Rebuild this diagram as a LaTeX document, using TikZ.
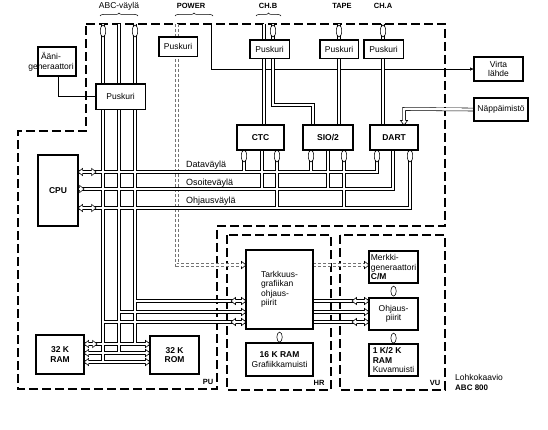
\documentclass[tikz,border=0pt]{standalone}
\usepackage{fontspec}
\setmainfont{Liberation Sans}
\usetikzlibrary{arrows.meta,decorations.pathreplacing,calc}
\begin{document}
\begin{tikzpicture}[x=1pt,y=-1pt,
  font=\fontsize{8.5}{9.5}\selectfont,
  box/.style={draw,line width=1.1pt,fill=white,inner sep=0pt,anchor=north west,align=center},
  bbox/.style={box,font=\fontsize{8.5}{9.5}\selectfont\bfseries},
  bus/.style={line width=0.55pt,double=white,double distance=2.4pt},
  pbus/.style={line width=0.5pt,draw=black!55,double=white,double distance=2.4pt,dash pattern=on 3pt off 2pt},
  wire/.style={line width=0.6pt},
  frame/.style={line width=1.3pt,dash pattern=on 9pt off 4pt},
  oval/.style={draw,fill=white,line width=0.55pt},
  lbl/.style={inner sep=0pt},
  blbl/.style={inner sep=0pt,font=\fontsize{7.5}{8}\selectfont\bfseries},
  brc/.style={decorate,decoration={brace,amplitude=3pt},line width=0.5pt},
  arrR/.pic={\fill[white] (0,0)--(-4.5,-3.6)--(-4.5,3.6)--cycle;
             \draw[line width=0.55pt] (-4.5,-1.5)--(-4.5,-3.6)--(0,0)--(-4.5,3.6)--(-4.5,1.5);},
  arrL/.pic={\fill[white] (0,0)--(4.5,-3.6)--(4.5,3.6)--cycle;
             \draw[line width=0.55pt] (4.5,-1.5)--(4.5,-3.6)--(0,0)--(4.5,3.6)--(4.5,1.5);},
  arrD/.pic={\fill[white] (0,0)--(-3.6,-4.5)--(3.6,-4.5)--cycle;
             \draw[line width=0.55pt] (-1.5,-4.5)--(-3.6,-4.5)--(0,0)--(3.6,-4.5)--(1.5,-4.5);}
]
\useasboundingbox (0,0) rectangle (548,430);
\fill[white] (0,0) rectangle (548,430);

% ---------- coordinates ----------
\coordinate (tA) at (103,24); \coordinate (tB) at (119,24); \coordinate (tC) at (135,24);
\coordinate (jC) at (135,301); \coordinate (jB) at (119,312); \coordinate (jA) at (103,322);
\coordinate (kC) at (135,344); \coordinate (kB) at (119,353); \coordinate (kA) at (103,362);
\coordinate (dD) at (377,172); \coordinate (dO) at (393,189); \coordinate (dK) at (410,208);
\coordinate (d1) at (244,172); \coordinate (d2) at (311,172);
\coordinate (o1) at (262,189); \coordinate (o2) at (328,189);
\coordinate (c1) at (277,208); \coordinate (c2) at (344,208);
\coordinate (cb) at (264,24); \coordinate (cb2) at (273,24); \coordinate (cb3) at (273,105); \coordinate (cb4) at (313,105);
\coordinate (tp) at (339,24); \coordinate (ca) at (383,24);
\coordinate (pw) at (177,24); \coordinate (pw2) at (177,265);
\coordinate (np1) at (404,109);
\coordinate (vw) at (211,24);
\coordinate (ae1) at (58,96);

% ---------- boxes ----------
\node[box,minimum width=37pt,minimum height=28pt] (aeni) at (38,47) {};
\node[box,minimum width=48pt,minimum height=24pt] (pusk1) at (96,84) {Puskuri};
\node[box,minimum width=37pt,minimum height=18pt] (puskP) at (159,37) {Puskuri};
\node[box,minimum width=38pt,minimum height=17pt] (puskB) at (250,40) {Puskuri};
\node[box,minimum width=37pt,minimum height=17pt] (puskT) at (320,40) {Puskuri};
\node[box,minimum width=38pt,minimum height=17pt] (puskA) at (364,40) {Puskuri};
\node[box,minimum width=48pt,minimum height=23pt] (virta) at (474,57) {Virta\\lähde};
\node[box,minimum width=53pt,minimum height=22pt] (napp) at (474,98) {Näppäimistö};
\node[bbox,minimum width=46pt,minimum height=24pt] (ctc) at (237,125) {CTC};
\node[bbox,minimum width=49pt,minimum height=24pt] (sio) at (303,125) {SIO/2};
\node[bbox,minimum width=47pt,minimum height=24pt] (dart) at (370,125) {DART};
\node[bbox,minimum width=39pt,minimum height=70pt] (cpu) at (38,155) {CPU};
\node[bbox,minimum width=47pt,minimum height=38pt] (ram) at (36,335) {32 K\\RAM};
\node[bbox,minimum width=48pt,minimum height=37pt] (rom) at (150,336) {32 K\\ROM};
\node[box,minimum width=66pt,minimum height=78pt,align=left] (tark) at (246,250) {Tarkkuus-\\grafiikan\\ohjaus-\\piirit};
\node[box,minimum width=66pt,minimum height=32pt] (g16) at (246,343) {\textbf{16 K RAM}\\Grafiikkamuisti};
\node[box,minimum width=48pt,minimum height=31pt,align=left] (merk) at (369,251) {Merkki-\\generaattori\\\textbf{C/M}};
\node[box,minimum width=48pt,minimum height=31pt] (ohj) at (369,298) {Ohjaus-\\piirit};
\node[box,minimum width=48pt,minimum height=31pt,align=left] (k12) at (369,344) {\textbf{1 K/2 K}\\\textbf{RAM}\\Kuvamuisti};

% ---------- frames ----------
\draw[frame] (86,24) -- (445,24) -- (445,226) -- (217,226) -- (217,389) -- (18,389) -- (18,131) -- (86,131) -- cycle;
\draw[frame] (227,235) rectangle (331,390);
\draw[frame] (340,235) rectangle (445,390);

% ---------- wires ----------
\draw[wire,-{Latex[length=4pt,width=3.5pt]}] (vw) -- (vw |- virta.west) -- (virta.west);
\draw[wire] (aeni.south -| ae1) -- (ae1) -- (pusk1.west |- ae1);

% ---------- power (dashed) ----------
\draw[pbus] (pw) -- (pw2) -- (tark.west |- pw2) (tark.east |- pw2) -- (merk.west |- pw2);

% ---------- buses ----------
\draw[bus]
  (tA) -- (kA) (tB) -- (kB) (tC) -- (kC)
  (cpu.east |- dD) -- (dD) -- (dart.south -| dD)
  (cpu.east |- dO) -- (dO) -- (dart.south -| dO)
  (cpu.east |- dK) -- (dK) -- (dart.south -| dK)
  (ctc.south -| d1) -- (d1) (sio.south -| d2) -- (d2)
  (ctc.south -| o1) -- (o1) (sio.south -| o2) -- (o2)
  (ctc.south -| c1) -- (c1) (sio.south -| c2) -- (c2)
  (jA) -- (tark.west |- jA) (jB) -- (tark.west |- jB) (jC) -- (tark.west |- jC)
  (ram.east |- kA) -- (rom.west |- kA) (ram.east |- kB) -- (rom.west |- kB) (ram.east |- kC) -- (rom.west |- kC)
  (tark.east |- jA) -- (ohj.west |- jA) (tark.east |- jB) -- (ohj.west |- jB) (tark.east |- jC) -- (ohj.west |- jC)
  (tark.south) -- (g16.north) (merk.south) -- (ohj.north) (ohj.south) -- (k12.north)
  (cb) -- (ctc.north -| cb)
  (cb2) -- (cb3) -- (cb4) -- (sio.north -| cb4)
  (tp) -- (sio.north -| tp)
  (ca) -- (dart.north -| ca);
\draw[bus] (napp.west) -- (np1) -- (dart.north -| np1);

% ---------- ovals ----------
\foreach \x in {103,135,273,339,383} \draw[oval] (\x,31) ellipse [x radius=2.7, y radius=6];
\foreach \x in {244,277,311,344,377,410} \draw[oval] (\x,156) ellipse [x radius=2.7, y radius=6];
\draw[oval] (tark.south) ++(0,8) ellipse [x radius=2.7, y radius=5];
\draw[oval] (ohj.south) ++(0,8) ellipse [x radius=2.7, y radius=5];
\draw[oval] (merk.south) ++(0,8) ellipse [x radius=2.7, y radius=5];

% ---------- arrow heads ----------
\pic at (cpu.east |- dD) {arrL}; \pic at ($(cpu.east |- dD)+(18,0)$) {arrR};
\pic at ($(cpu.east |- dO)+(6,0)$) {arrR};
\pic at (cpu.east |- dK) {arrL}; \pic at ($(cpu.east |- dK)+(18,0)$) {arrR};
\pic at (ram.east |- kC) {arrL}; \pic at ($(ram.east |- kC)+(13,0)$) {arrR};
\pic at (ram.east |- kB) {arrL}; \pic at (ram.east |- kA) {arrL};
\pic at (rom.west |- kC) {arrR}; \pic at (rom.west |- kB) {arrR}; \pic at (rom.west |- kA) {arrR};
\pic at (tark.west |- jC) {arrR}; \pic at ($(tark.west |- jC)+(-15,0)$) {arrL};
\pic at (tark.west |- jB) {arrR};
\pic at (tark.west |- jA) {arrR}; \pic at ($(tark.west |- jA)+(-15,0)$) {arrL};
\pic at (ohj.west |- jC) {arrR}; \pic at ($(ohj.west |- jC)+(-17,0)$) {arrL};
\pic at (ohj.west |- jB) {arrR};
\pic at (ohj.west |- jA) {arrR}; \pic at ($(ohj.west |- jA)+(-17,0)$) {arrL};
\pic at (tark.west |- pw2) {arrR}; \pic at (merk.west |- pw2) {arrR};
\pic at (dart.north -| np1) {arrD};

% ---------- boxes on top (buses pass behind) ----------
\node[box,draw=none,minimum width=37pt,minimum height=18pt] (puskP2) at (159,37) {Puskuri};
\node[box,draw=none,minimum width=38pt,minimum height=17pt] (puskB2) at (250,40) {Puskuri};
\node[box,draw=none,minimum width=37pt,minimum height=17pt] (puskT2) at (320,40) {Puskuri};
\node[box,draw=none,minimum width=38pt,minimum height=17pt] (puskA2) at (364,40) {Puskuri};
\node[box,draw=none,minimum width=48pt,minimum height=24pt] (pusk12) at (96,84) {Puskuri};
\foreach \n in {aeni,pusk1,puskP,puskB,puskT,puskA,virta,napp,ctc,sio,dart,cpu,ram,rom,tark,g16,merk,ohj,k12}
  \draw[line width=1.1pt] (\n.north west) rectangle (\n.south east);
\node[lbl,align=center] (aenit) at (51,62) {Ääni-\\generaattori};

% ---------- labels ----------
\node[lbl] (labc) at (119,6) {ABC-väylä};
\node[blbl] (lpow) at (191,6) {POWER};
\node[blbl] (lchb) at (268,6) {CH.B};
\node[blbl] (ltape) at (342,6) {TAPE};
\node[blbl] (lcha) at (383,6) {CH.A};
\draw[brc] (100,16) -- (138,16);
\draw[brc] (175,16) -- (213,16);
\draw[brc] (256,16) -- (281,16);

\node[lbl,anchor=west,font=\fontsize{9}{10}\selectfont] (ldata) at (186,165) {Dataväylä};
\node[lbl,anchor=west,font=\fontsize{9}{10}\selectfont] (losoi) at (186,183) {Osoiteväylä};
\node[lbl,anchor=west,font=\fontsize{9}{10}\selectfont] (lohja) at (186,201) {Ohjausväylä};

\node[blbl] (lpu) at (208,382) {PU};
\node[blbl] (lhr) at (319,383) {HR};
\node[blbl] (lvu) at (435,383) {VU};

\node[lbl,anchor=west] (lohko) at (455,377) {Lohkokaavio};
\node[lbl,anchor=west,font=\fontsize{8}{9}\selectfont\bfseries] (labc8) at (455,388) {ABC 800};
\end{tikzpicture}
\end{document}
